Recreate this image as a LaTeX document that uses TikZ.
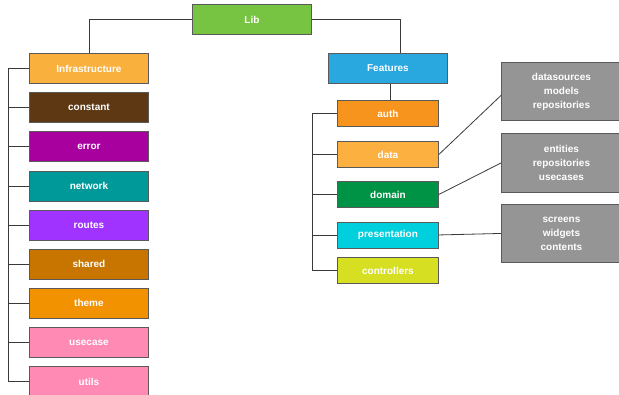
\documentclass[tikz,border=0pt]{standalone}
\usepackage{fontspec}
\setmainfont{Liberation Sans}
\definecolor{cLib}{HTML}{76C442}
\definecolor{cInfra}{HTML}{F9B03D}
\definecolor{cConst}{HTML}{5E3813}
\definecolor{cErr}{HTML}{A8009E}
\definecolor{cNet}{HTML}{009999}
\definecolor{cRoutes}{HTML}{A033FF}
\definecolor{cShared}{HTML}{C87500}
\definecolor{cTheme}{HTML}{F39200}
\definecolor{cPink}{HTML}{FF8AB4}
\definecolor{cFeat}{HTML}{29A8E0}
\definecolor{cAuth}{HTML}{F7941D}
\definecolor{cData}{HTML}{FBB040}
\definecolor{cDomain}{HTML}{009245}
\definecolor{cPres}{HTML}{00CFDD}
\definecolor{cCtrl}{HTML}{D7DF23}
\definecolor{cGray}{HTML}{959595}
\definecolor{cLine}{HTML}{3A3A3A}
\definecolor{cEdge}{HTML}{5A5A5A}
\begin{document}
\begin{tikzpicture}[x=1pt,y=-1pt,
  box/.style={draw=cEdge, line width=0.9pt, text=white, font=\fontsize{10}{12}\selectfont\bfseries,
    minimum width=119pt, minimum height=30pt, inner sep=0pt, anchor=north west},
  sbox/.style={box, minimum width=101pt, minimum height=26pt},
  gbox/.style={box, fill=cGray, minimum width=120pt, align=center, font=\fontsize{10}{14}\selectfont\bfseries},
  conn/.style={draw=cLine, line width=0.8pt}]
\useasboundingbox (0,0) rectangle (619,394);
% top
\node[box, fill=cLib] (lib) at (192,4) {Lib};
% left column
\node[box, fill=cInfra] (infra) at (29,53) {Infrastructure};
\node[box, fill=cConst] (const) at (29,92) {constant};
\node[box, fill=cErr] (err) at (29,131) {error};
\node[box, fill=cNet] (net) at (29,170.5) {network};
\node[box, fill=cRoutes] (routes) at (29,209.5) {routes};
\node[box, fill=cShared] (shared) at (29,248.5) {shared};
\node[box, fill=cTheme] (theme) at (29,287.5) {theme};
\node[box, fill=cPink] (usecase) at (29,327) {usecase};
\node[box, fill=cPink] (utils) at (29,366) {utils};
% right column
\node[box, fill=cFeat] (feat) at (328,53) {Features};
\node[sbox, fill=cAuth] (auth) at (337,100) {auth};
\node[sbox, fill=cData] (data) at (337,141) {data};
\node[sbox, fill=cDomain] (domain) at (337,181) {domain};
\node[sbox, fill=cPres] (pres) at (337,221.5) {presentation};
\node[sbox, fill=cCtrl] (ctrl) at (337,257) {controllers};
% gray boxes
\node[gbox, minimum height=58pt] (g1) at (501,62) {datasources\\models\\repositories};
\node[gbox, minimum height=59pt] (g2) at (501,133) {entities\\repositories\\usecases};
\node[gbox, minimum height=58pt] (g3) at (501,204) {screens\\widgets\\contents};
% trunks
\coordinate (tl) at (8,0);
\coordinate (tr) at (312,0);
\coordinate (fx) at (400,0);
\coordinate (ix) at (89,0);
\coordinate (ax) at (390,0);
% connectors
\draw[conn] (lib.west) -| (infra.north -| ix);
\draw[conn] (lib.east) -| (feat.north -| fx);
\draw[conn] (feat.south -| ax) -- (auth.north -| ax);
\draw[conn] (infra.west -| tl) -- (utils.west -| tl);
\foreach \n in {infra,const,err,net,routes,shared,theme,usecase,utils}
  \draw[conn] (\n.west) -- (\n.west -| tl);
\draw[conn] (auth.west -| tr) -- (ctrl.west -| tr);
\foreach \n in {auth,data,domain,pres,ctrl}
  \draw[conn] (\n.west) -- (\n.west -| tr);
\draw[conn] (data.east) -- ([yshift=-4pt]g1.west);
\draw[conn] (domain.east) -- (g2.west);
\draw[conn] (pres.east) -- (g3.west);
\end{tikzpicture}
\end{document}
